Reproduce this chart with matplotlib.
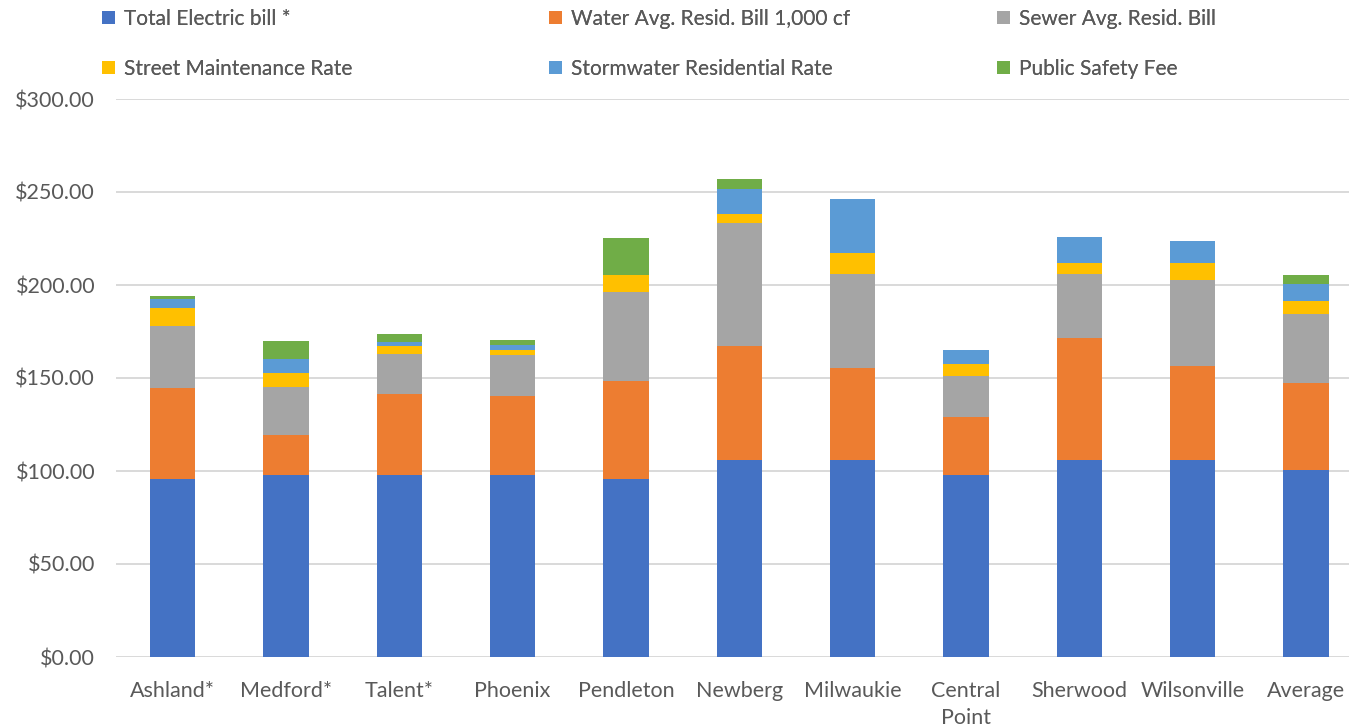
import numpy as np
import matplotlib.pyplot as plt
from matplotlib.ticker import FuncFormatter

cities = ['Ashland*', 'Medford*', 'Talent*', 'Phoenix', 'Pendleton', 'Newberg',
          'Milwaukie', 'Central\nPoint', 'Sherwood', 'Wilsonville', 'Average']

electric = [95.9, 97.8, 97.8, 97.8, 95.5, 105.7, 105.7, 98.0, 105.7, 105.7, 100.7]
water = [48.6, 21.4, 43.8, 42.7, 53.1, 61.7, 49.7, 30.9, 66.0, 50.6, 46.4]
sewer = [33.6, 26.1, 21.5, 22.0, 47.8, 65.8, 50.7, 22.3, 34.0, 46.4, 37.5]
street = [9.7, 7.2, 4.1, 2.7, 9.0, 5.1, 11.1, 6.3, 5.9, 8.9, 6.8]
stormwater = [4.9, 7.9, 2.3, 2.4, 0.0, 13.1, 29.2, 7.6, 14.1, 12.2, 9.3]
safety = [1.4, 9.5, 4.2, 3.0, 20.0, 5.4, 0.0, 0.0, 0.0, 0.0, 4.7]

series = [
    ('Total Electric bill *', electric, '#4472C4'),
    ('Water Avg. Resid. Bill 1,000 cf', water, '#ED7D31'),
    ('Sewer Avg. Resid. Bill', sewer, '#A5A5A5'),
    ('Street Maintenance Rate', street, '#FFC000'),
    ('Stormwater Residential Rate', stormwater, '#5B9BD5'),
    ('Public Safety Fee', safety, '#70AD47'),
]

plt.rcParams['font.family'] = ['Lato', 'DejaVu Sans']
text_color = '#595959'

fig = plt.figure(figsize=(13.49, 7.28), dpi=100)
ax = fig.add_axes([116 / 1349, 71 / 728, 1 - 116 / 1349, (657 - 99) / 728])

x = np.arange(len(cities))
bottom = np.zeros(len(cities))
handles = []
for label, values, color in series:
    bars = ax.bar(x, values, width=0.4, bottom=bottom, color=color,
                  label=label, zorder=3)
    handles.append(bars)
    bottom += np.array(values)

ax.set_ylim(0, 300)
ax.set_xlim(-0.5, 10.38)
ax.set_yticks(np.arange(0, 301, 50))
ax.yaxis.set_major_formatter(FuncFormatter(lambda v, p: f'${v:,.2f}'))
ax.set_xticks(x)
ax.set_xticklabels(cities, linespacing=1.45)
ax.grid(axis='y', color='#D9D9D9', linewidth=1.4, zorder=0)
ax.tick_params(length=0, labelsize=15.5, colors=text_color)
ax.tick_params(axis='x', pad=17)
ax.tick_params(axis='y', pad=15)
for spine in ax.spines.values():
    spine.set_visible(False)

# legend: three columns, two rows
col_x = [98 / 1349, 545 / 1349, 993 / 1349]
for i, cx in enumerate(col_x):
    leg = fig.legend(handles=[handles[i], handles[i + 3]], loc='upper left',
                     bbox_to_anchor=(cx, 1.0 - 5 / 728), frameon=False,
                     fontsize=15, labelcolor=text_color, handlelength=0.6,
                     handleheight=0.6, handletextpad=0.45, labelspacing=1.42,
                     borderaxespad=0, borderpad=0.2)
    fig.add_artist(leg)

fig.savefig('out.png', dpi=100)
